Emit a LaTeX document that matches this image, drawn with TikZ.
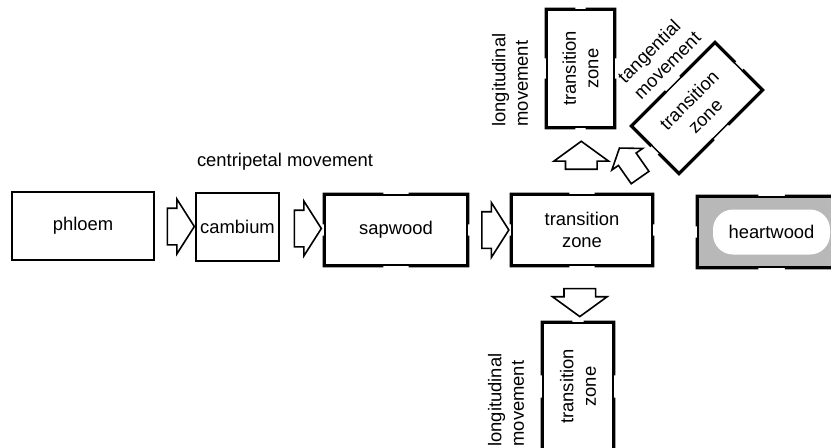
\documentclass[tikz,border=0pt]{standalone}
\usepackage{fontspec}
\setmainfont{Liberation Sans}
\usetikzlibrary{shapes.arrows,calc}

\newlength{\pix}\setlength{\pix}{0.75pt}

\tikzset{
  box/.style={draw, line width=1.4\pix, minimum width=142\pix, minimum height=68\pix, inner sep=0pt, align=center},
  heavy/.style={line width=3.2\pix, line join=miter, line cap=rect},
  flow/.style={single arrow, draw, line width=1.6\pix, inner xsep=0pt, inner ysep=17.5\pix, minimum height=27\pix, single arrow head extend=9\pix, single arrow tip angle=115},
  upflow/.style={flow, inner ysep=15\pix, minimum height=28\pix, single arrow head extend=11.5\pix, single arrow tip angle=108},
  label/.style={inner sep=0pt, align=left},
}

% thick corners, thin middle of each side
\newcommand{\heavyframe}[2][0.4]{%
  \foreach \cn/\pn/\qn in {north west/north east/south west, north east/north west/south east, south east/south west/north east, south west/south east/north west}
    \draw[heavy] ($(#2.\cn)!#1!(#2.\pn)$) -- (#2.\cn) -- ($(#2.\cn)!#1!(#2.\qn)$);
}

\begin{document}
\begin{tikzpicture}[x=0.75pt,y=0.75pt,yscale=-1,xscale=1, font=\fontsize{13.8pt}{17pt}\selectfont]
\useasboundingbox (0,0) rectangle (831,447);

% Boxes along the radius
\node[box] (phloem) at (83,226) {phloem};
\node[box, minimum width=83\pix] (cambium) at (237.5,227) {cambium};
\node[box, minimum height=70\pix] (sapwood) at (396,230) {sapwood};
\node[box, minimum width=140\pix, minimum height=70\pix] (zone) at (582,230) {transition\\zone};
\node[box, fill=black!28, minimum width=147\pix, minimum height=70\pix] (heart) at (771.5,232) {};
\node[fill=white, rounded corners=20\pix, minimum width=117\pix, minimum height=45\pix, inner sep=0pt] (heartcore) at (heart.center) {heartwood};

% Transition zones in the other directions
\node[box, rotate=90, minimum width=117\pix, minimum height=67\pix] (zoneup) at (580.5,68.5) {transition\\zone};
\node[box, rotate=90, minimum width=127\pix, minimum height=70\pix] (zonedown) at (578,386.5) {transition\\zone};
\node[box, rotate=45, minimum width=117\pix, minimum height=66\pix] (zonetan) at (697,108) {transition\\zone};

\heavyframe{sapwood}
\heavyframe{zone}
\heavyframe{heart}
\heavyframe{zoneup}
\heavyframe{zonedown}
\heavyframe{zonetan}

% Block arrows
\node[flow] (a1) at ($(phloem.east)!0.5!(cambium.west)$) {};
\node[flow] (a2) at ($(cambium.east)!0.5!(sapwood.west)$) {};
\node[flow] (a3) at ($(sapwood.east)!0.5!(zone.west)$) {};
\node[upflow, rotate=90] (aup) at ($(zone.north)!0.5!(zoneup.west)$) {};
\node[upflow, rotate=-90] (adown) at ($(zone.south)!0.55!(zonedown.east)$) {};
\node[upflow, rotate=125, inner ysep=10\pix, minimum height=36\pix, single arrow head extend=8\pix] (atan) at (632,166) {};

% Text labels
\node[label] (centri) at (285,162) {centripetal movement};
\node[label, rotate=90] (longup) at (510,80) {longitudinal\\movement};
\node[label, rotate=90] (longdown) at (506,400) {longitudinal\\movement};
\node[label, rotate=45] (tang) at (659,57) {tangential\\movement};

\end{tikzpicture}
\end{document}
